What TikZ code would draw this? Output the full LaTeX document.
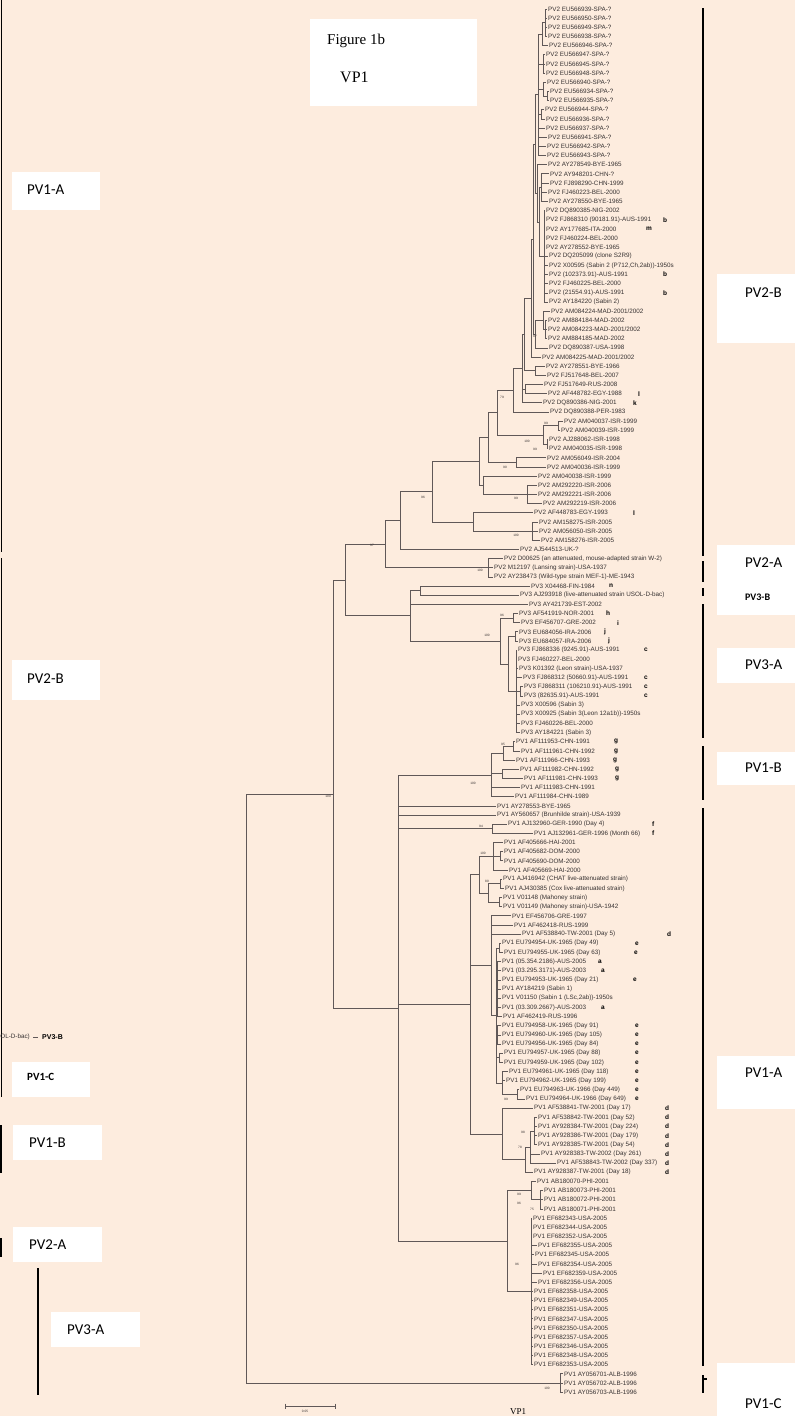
\documentclass[tikz,border=0pt]{standalone}
\usepackage{fontspec}
\setmainfont{Liberation Serif}
\setsansfont{Liberation Sans}
\newfontfamily\calib{Carlito}
\usetikzlibrary{calc}
\definecolor{peach}{RGB}{253,236,222}
\definecolor{branchgray}{RGB}{96,88,88}
\definecolor{leafgray}{RGB}{55,50,50}

% internal node: name, x, children (first and last child fix its height)
\newcommand\clade[3]{%
  \def\cfirst{}%
  \foreach \c in {#3}{\ifx\cfirst\empty\xdef\cfirst{\c}\fi\xdef\clast{\c}}%
  \path ($(\cfirst)!0.5!(\clast)$) coordinate (mid);
  \coordinate (#1) at (#2,0 |- mid);
  \foreach \c in {#3} \draw[br] (#1) |- (\c);}

\begin{document}
\begin{tikzpicture}[x=1pt, y=-1pt,
  leaf/.style={anchor=west, inner sep=1pt, text=leafgray, font=\sffamily\fontsize{6.3}{7}\selectfont},
  tagmark/.style={anchor=west, inner sep=0pt, font=\sffamily\bfseries\fontsize{6.5}{7}\selectfont},
  boot/.style={inner sep=0pt, text=leafgray, font=\sffamily\fontsize{3.2}{3.5}\selectfont},
  br/.style={draw=branchgray, line width=0.8pt},
  bar/.style={line width=1.3pt},
  whitebox/.style={fill=white},
  cladelab/.style={anchor=west, inner sep=0pt, font=\calib\fontsize{15}{15}\selectfont}
]
  \useasboundingbox (0,0) rectangle (795,1416);
  \fill[peach] (0,0) rectangle (795,1416);

  % leaves
  \foreach \tx/\lab [count=\i] in {
    547/PV2 EU566939-SPA-?, 547/PV2 EU566950-SPA-?, 547/PV2 EU566949-SPA-?, 547/PV2 EU566938-SPA-?,
    548/PV2 EU566946-SPA-?, 545/PV2 EU566947-SPA-?, 545/PV2 EU566945-SPA-?, 545/PV2 EU566948-SPA-?,
    546/PV2 EU566940-SPA-?, 549/PV2 EU566934-SPA-?, 549/PV2 EU566935-SPA-?, 544/PV2 EU566944-SPA-?,
    545/PV2 EU566936-SPA-?, 545/PV2 EU566937-SPA-?, 547/PV2 EU566941-SPA-?, 546/PV2 EU566942-SPA-?,
    546/PV2 EU566943-SPA-?, 547/PV2 AY278549-BYE-1965, 549/PV2 AY948201-CHN-?, 549/PV2 FJ898290-CHN-1999,
    547/PV2 FJ460223-BEL-2000, 548/PV2 AY278550-BYE-1965, 545/PV2 DQ890385-NIG-2002,
    545/PV2 FJ868310 (90181.91)-AUS-1991, 545/PV2 AY177685-ITA-2000, 545/PV2 FJ460224-BEL-2000,
    545/PV2 AY278552-BYE-1965, 548/PV2 DQ205099 (clone S2R9), 548/{PV2 X00595 (Sabin 2 (P712,Ch,2ab))-1950s},
    548/PV2 (102373.91)-AUS-1991, 548/PV2 FJ460225-BEL-2000, 548/PV2 (21554.91)-AUS-1991,
    548/PV2 AY184220 (Sabin 2), 550/{PV2 AM084224-MAD-2001/2002}, 547/PV2 AM884184-MAD-2002,
    547/{PV2 AM084223-MAD-2001/2002}, 547/PV2 AM884185-MAD-2002, 548/PV2 DQ890387-USA-1998,
    541/{PV2 AM084225-MAD-2001/2002}, 545/PV2 AY278551-BYE-1966, 546/PV2 FJ517648-BEL-2007,
    543/PV2 FJ517649-RUS-2008, 547/PV2 AF448782-EGY-1988, 542/PV2 DQ890386-NIG-2001,
    549/PV2 DQ890388-PER-1983, 563/PV2 AM040037-ISR-1999, 560/PV2 AM040039-ISR-1999,
    548/PV2 AJ288062-ISR-1998, 548/PV2 AM040035-ISR-1998, 546/PV2 AM056049-ISR-2004,
    546/PV2 AM040036-ISR-1999, 537/PV2 AM040038-ISR-1999, 537/PV2 AM292220-ISR-2006,
    537/PV2 AM292221-ISR-2006, 542/PV2 AM292219-ISR-2006, 533/PV2 AF448783-EGY-1993,
    538/PV2 AM158275-ISR-2005, 538/PV2 AM056050-ISR-2005, 540/PV2 AM158276-ISR-2005,
    519/PV2 AJ544513-UK-?, 503/{PV2 D00625 (an attenuated, mouse-adapted strain W-2)},
    493/PV2 M12197 (Lansing strain)-USA-1937, 493/PV2 AY238473 (Wild-type strain MEF-1)-ME-1943,
    530/PV3 X04468-FIN-1984, 519/PV3 AJ293918 (live-attenuated strain USOL-D-bac),
    528/PV3 AY421739-EST-2002, 518/PV3 AF541919-NOR-2001, 520/PV3 EF456707-GRE-2002,
    518/PV3 EU684056-IRA-2006, 518/PV3 EU684057-IRA-2006, 517/PV3 FJ868336 (9245.91)-AUS-1991,
    517/PV3 FJ460227-BEL-2000, 518/PV3 K01392 (Leon strain)-USA-1937, 522/PV3 FJ868312 (50660.91)-AUS-1991,
    523/PV3 FJ868311 (106210.91)-AUS-1991, 523/PV3 (82635.91)-AUS-1991, 520/PV3 X00596 (Sabin 3),
    520/PV3 X00925 (Sabin 3(Leon 12a1b))-1950s, 520/PV3 FJ460226-BEL-2000, 520/PV3 AY184221 (Sabin 3),
    515/PV1 AF111953-CHN-1991, 520/PV1 AF111961-CHN-1992, 515/PV1 AF111966-CHN-1993,
    519/PV1 AF111982-CHN-1992, 523/PV1 AF111981-CHN-1993, 520/PV1 AF111983-CHN-1991,
    514/PV1 AF111984-CHN-1989, 496/PV1 AY278553-BYE-1965, 496/PV1 AY560657 (Brunhilde strain)-USA-1939,
    507/PV1 AJ132960-GER-1990 (Day 4), 533/PV1 AJ132961-GER-1996 (Month 66), 503/PV1 AF405666-HAI-2001,
    503/PV1 AF405682-DOM-2000, 503/PV1 AF405690-DOM-2000, 508/PV1 AF405669-HAI-2000,
    502/PV1 AJ416942 (CHAT live-attenuated strain), 504/PV1 AJ430385 (Cox live-attenuated strain),
    502/PV1 V01148 (Mahoney strain), 502/PV1 V01149 (Mahoney strain)-USA-1942, 511/PV1 EF456706-GRE-1997,
    513/PV1 AF462418-RUS-1999, 521/PV1 AF538840-TW-2001 (Day 5), 501/PV1 EU794954-UK-1965 (Day 49),
    503/PV1 EU794955-UK-1965 (Day 63), 501/PV1 (05.354.2186)-AUS-2005, 501/PV1 (03.295.3171)-AUS-2003,
    501/PV1 EU794953-UK-1965 (Day 21), 501/PV1 AY184219 (Sabin 1), 501/{PV1 V01150 (Sabin 1 (LSc,2ab))-1950s},
    501/PV1 (03.309.2667)-AUS-2003, 502/PV1 AF462419-RUS-1996, 501/PV1 EU794958-UK-1965 (Day 91),
    501/PV1 EU794960-UK-1965 (Day 105), 501/PV1 EU794956-UK-1965 (Day 84), 503/PV1 EU794957-UK-1965 (Day 88),
    503/PV1 EU794959-UK-1965 (Day 102), 508/PV1 EU794961-UK-1965 (Day 118), 505/PV1 EU794962-UK-1965 (Day 199),
    519/PV1 EU794963-UK-1966 (Day 449), 525/PV1 EU794964-UK-1966 (Day 649), 533/PV1 AF538841-TW-2001 (Day 17),
    537/PV1 AF538842-TW-2001 (Day 52), 537/PV1 AY928384-TW-2001 (Day 224), 537/PV1 AY928386-TW-2001 (Day 179),
    537/PV1 AY928385-TW-2001 (Day 54), 540/PV1 AY928383-TW-2002 (Day 261), 556/PV1 AF538843-TW-2002 (Day 337),
    533/PV1 AY928387-TW-2001 (Day 18), 536/PV1 AB180070-PHI-2001, 543/PV1 AB180073-PHI-2001,
    543/PV1 AB180072-PHI-2001, 543/PV1 AB180071-PHI-2001, 532/PV1 EF682343-USA-2005,
    532/PV1 EF682344-USA-2005, 532/PV1 EF682352-USA-2005, 537/PV1 EF682355-USA-2005,
    534/PV1 EF682345-USA-2005, 537/PV1 EF682354-USA-2005, 542/PV1 EF682359-USA-2005,
    537/PV1 EF682356-USA-2005, 533/PV1 EF682358-USA-2005, 533/PV1 EF682349-USA-2005,
    533/PV1 EF682351-USA-2005, 533/PV1 EF682347-USA-2005, 533/PV1 EF682350-USA-2005,
    533/PV1 EF682357-USA-2005, 533/PV1 EF682346-USA-2005, 533/PV1 EF682348-USA-2005,
    533/PV1 EF682353-USA-2005, 563/PV1 AY056701-ALB-1996, 563/PV1 AY056702-ALB-1996,
    563/PV1 AY056703-ALB-1996}
    \node[leaf] (l\i) at (\tx,{9+9.16*(\i-1)}) {\lab};

  % letters after the leaves
  \foreach \i/\mx/\mk in {24/663/b, 25/646/m, 30/663/b, 32/663/b, 43/638/l, 44/633/k, 56/633/l,
    64/609/n, 67/606/h, 68/617/i, 69/604/j, 70/608/j, 71/644/c, 74/644/c, 75/644/c, 76/644/c,
    81/614/g, 82/614/g, 83/613/g, 84/615/g, 85/615/g, 90/652/f, 91/652/f, 102/667/d,
    103/635/e, 104/634/e, 105/598/a, 106/601/a, 107/633/e, 110/601/a,
    112/635/e, 113/635/e, 114/635/e, 115/635/e, 116/635/e, 117/635/e, 118/635/e, 119/635/e, 120/635/e,
    121/665/d, 122/665/d, 123/665/d, 124/665/d, 125/665/d, 126/665/d, 127/665/d, 128/665/d}
    \node[tagmark] (m\i) at (\mx,0 |- l\i) {\mk};

  % PV2
  \clade{a1}{545.5}{l1,l2,l3,l4}
  \clade{a2}{542}{a1,l5}
  \clade{a3}{543}{l6,l7,l8}
  \clade{a4}{547}{l10,l11}
  \clade{a5}{543}{l9,a4}
  \clade{a6}{541}{l12,l13}
  \clade{spa}{538}{a2,a3,a5,a6,l14,l15,l16,l17}
  \clade{s1}{541}{l19,l20,l21,l22}
  \clade{s2}{544}{l23,l24,l25,l26,l27,l28,l29,l30,l31,l32,l33}
  \clade{s3}{539}{s1,s2}
  \clade{sab}{537}{l18,s3}
  \clade{t1}{535}{spa,sab}
  \clade{m1}{545}{l35,l36,l37}
  \clade{m2}{543}{l34,m1}
  \clade{m3}{535}{m2,l38}
  \clade{t2}{533}{t1,m3}
  \clade{t3}{531}{t2,l39}
  \clade{b1}{535}{l40,l41}
  \clade{t4}{524}{t3,b1}
  \clade{n1}{525}{l42,l43}
  \clade{t5}{522}{t4,n1,l44}
  \clade{t6}{513}{t5,l45}
  \clade{i1}{558}{l46,l47}
  \clade{i2}{547}{l48,l49}
  \clade{i3}{543}{i1,i2}
  \clade{t7}{497}{t6,i3}
  \clade{i4}{516}{l50,l51}
  \clade{t8}{488}{t7,i4}
  \clade{i5}{527}{l53,l54,l55}
  \clade{i6}{483}{l52,i5}
  \clade{t9}{479}{t8,i6}
  \clade{i7}{532}{l57,l58,l59}
  \clade{i8}{473}{l56,i7}
  \clade{t10}{432}{t9,i8}
  \clade{t11}{400}{t10,l60}
  \clade{p2a}{488}{l61,l62,l63}
  \clade{pv2}{385}{t11,p2a}

  % PV3
  \clade{q1}{420}{l64,l65}
  \clade{h1}{513}{l67,l68}
  \clade{j1}{515}{l69,l70}
  \clade{c1}{520}{l75,l76}
  \clade{r1}{516}{l71,l72,l73,l74,c1,l77,l78,l79,l80}
  \clade{q3}{508}{j1,r1}
  \clade{q4}{500}{h1,q3}
  \clade{pv3}{410}{q1,l66,q4}
  \clade{p23}{345}{pv2,pv3}

  % PV1
  \clade{g1}{513}{l81,l82}
  \clade{g2}{503}{g1,l83}
  \clade{g3}{502}{l84,l85}
  \clade{pv1b}{491}{g2,g3,l86,l87}
  \clade{f1}{492}{l90,l91}
  \clade{d1}{500}{l93,l94}
  \clade{h2}{493}{l92,d1,l95}
  \clade{c2}{500}{l96,l97}
  \clade{mh}{499}{l98,l99}
  \clade{k1}{488}{c2,mh}
  \clade{h3}{479}{h2,k1}
  \clade{u1}{499}{l103,l104}
  \clade{u2}{497}{l105,l106,l107,l108,l109,l110,l111}
  \clade{u3}{497}{l112,l113,l114}
  \clade{u4}{499}{l115,l116}
  \clade{u6}{517}{l119,l120}
  \clade{u5}{502}{l117,l118,u6}
  \clade{s1a}{496}{u1,u2,u3,u4,u5}
  \clade{e3}{491}{l100,l101,l102,s1a}
  \clade{w1}{534}{l122,l123,l124,l125}
  \clade{w2}{530}{w1,l126,l127}
  \clade{w3}{525}{w2,l128}
  \clade{w4}{502}{l121,w3}
  \clade{core}{470}{h3,e3,w4}
  \clade{p1}{540}{l130,l131,l132}
  \clade{p2}{531}{l129,p1}
  \clade{us1}{531}{l133,l134,l135,l136,l137,l138,l139,l140,l141,l142,l143,l144,l145,l146,l147,l148,l149}
  \clade{p3}{507}{p2,us1}
  \clade{pv1}{398}{pv1b,l88,l89,f1,core,p3}
  \clade{p123}{333}{p23,pv1}
  \clade{alb}{560}{l150,l151,l152}
  \clade{root}{246}{p123,alb}

  % bootstrap values
  \foreach \bx/\by/\bv [count=\k] in {535/336/87, 502/397/79, 546/423/99, 527/441/100, 535/449/99,
    505/467/90, 423/497/96, 516/498/99, 516/535/100, 372/545/97, 480/570/100, 502/615/96,
    487/635/100, 503/744/95, 473/783/100, 481/826/94, 483/853/100, 487/881/80,
    506/1099/99, 523/1132/98, 520/1147/78, 519/1194/99, 519/1203/96, 532/1209/75, 517/1264/96,
    547/1388/100}
    \node[boot] (bs\k) at (\bx,\by) {\bv};
  \node[boot, anchor=north east] (bsr) at ([xshift=-2pt, yshift=-1pt]p123) {100};

  % clade bars on the right
  \draw[bar] (703,8) -- (703,556);
  \draw[bar] (703,561) -- (703,582);
  \draw[bar] (703,588) -- (703,596);
  \draw[bar] (703,604) -- (703,738);
  \draw[bar] (703,746) -- (703,800);
  \draw[bar] (703,808) -- (703,1366);
  \draw[bar] (703,1375) -- (703,1393);
  \draw[bar] (703,1379) -- (707,1379);

  \fill[whitebox] (717,274) rectangle (795,343);
  \fill[whitebox] (717,545) rectangle (795,615);
  \fill[whitebox] (717,648) rectangle (795,683);
  \fill[whitebox] (717,752) rectangle (795,785);
  \fill[whitebox] (717,1056) rectangle (795,1109);
  \fill[whitebox] (717,1363) rectangle (795,1416);
  \node[cladelab] (rB2) at (745,293) {PV2-B};
  \node[cladelab] (rA2) at (745,563) {PV2-A};
  \node[cladelab, font=\calib\bfseries\fontsize{10}{10}\selectfont] (rB3) at (745,597) {PV3-B};
  \node[cladelab] (rA3) at (745,665) {PV3-A};
  \node[cladelab] (rB1) at (745,768) {PV1-B};
  \node[cladelab] (rA1) at (745,1073) {PV1-A};
  \node[cladelab] (rC1) at (745,1404) {PV1-C};

  % title box
  \fill[whitebox] (310,19) rectangle (477,106);
  \node[anchor=west, inner sep=0pt, font=\fontsize{15}{15}\selectfont] (fig) at (327,41) {Figure 1b};
  \node[anchor=west, inner sep=0pt, font=\fontsize{16}{16}\selectfont] (vp) at (340,77) {VP1};

  % left margin, cut from the other panel
  \draw[bar] (1.5,0) -- (1.5,552);
  \draw[bar] (1.5,558) -- (1.5,1097);
  \fill[whitebox] (12,172) rectangle (100,210);
  \fill[whitebox] (12,660) rectangle (100,700);
  \node[cladelab] (lA1) at (27,190) {PV1-A};
  \node[cladelab] (lB2) at (27,679) {PV2-B};
  \node[leaf, anchor=east] (lcut) at (31,1037) {OL-D-bac)};
  \draw[br, line width=0.5pt] (33,1037) -- (38,1037);
  \node[tagmark, font=\sffamily\bfseries\fontsize{7}{7}\selectfont] (lB3) at (42,1037) {PV3-B};
  \fill[whitebox] (12,1062) rectangle (90,1097);
  \node[cladelab, font=\calib\bfseries\fontsize{11}{11}\selectfont] (lC1) at (27,1077) {PV1-C};
  \fill[whitebox] (13,1125) rectangle (102,1160);
  \node[cladelab] (lB1) at (29,1143) {PV1-B};
  \draw[bar] (1,1125) -- (1,1173);
  \fill[whitebox] (13,1227) rectangle (102,1262);
  \node[cladelab] (lA2) at (29,1245) {PV2-A};
  \draw[line width=2.5pt] (1,1238) -- (1,1257);
  \fill[whitebox] (51,1312) rectangle (140,1347);
  \node[cladelab] (lA3) at (67,1330) {PV3-A};
  \draw[bar] (38,1268) -- (38,1395);

  % scale bar and caption
  \draw[br] (285,1406) -- (335,1406);
  \draw[br] (285,1403.5) -- (285,1408.5);
  \draw[br] (335,1403.5) -- (335,1408.5);
  \node[boot] (sc) at (305,1411) {0.05};
  \node[anchor=base, inner sep=0pt, font=\fontsize{9}{9}\selectfont] (cap) at (518,1414.5) {VP1};
\end{tikzpicture}
\end{document}
